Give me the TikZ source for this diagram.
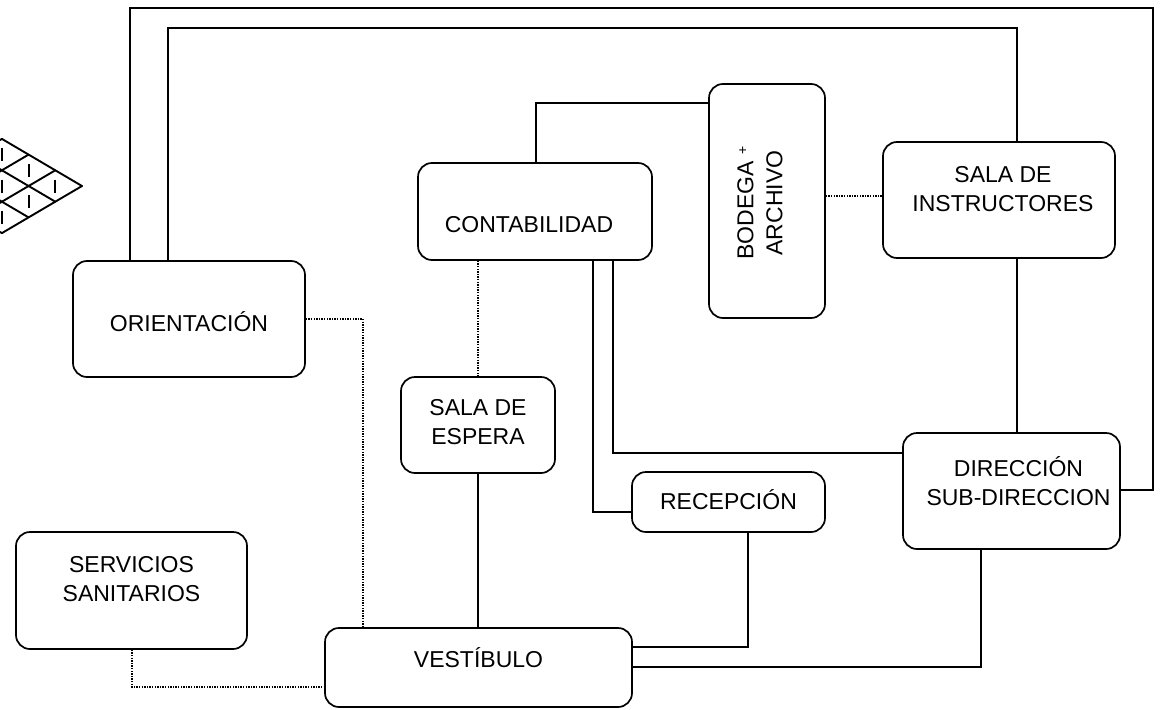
\documentclass[tikz,border=0pt]{standalone}
\usepackage{fontspec}
\setmainfont{Liberation Sans}
\usetikzlibrary{calc}
\tikzset{
  room/.style={draw, rounded corners=14pt, line width=1.7pt, inner sep=0pt},
  conn/.style={line width=1.5pt},
  dotline/.style={line width=1.3pt, dash pattern=on 1.3pt off 1.3pt},
  lbl/.style={font=\fontsize{23}{29}\selectfont, align=center, inner sep=0pt},
  gridline/.style={line width=1.9pt, line cap=round},
  tickmark/.style={line width=2.2pt}
}
\begin{document}
\begin{tikzpicture}[x=1pt, y=-1pt]
\useasboundingbox (0,0) rectangle (1161,709);

% orientation symbol (cut at the left edge)
\begin{scope}
  \clip (0,0) rectangle (1161,709);
  \foreach \k in {0,1,2,3} {
    \draw[gridline] ({82-26.7*\k},{186+15.7*\k}) -- ++(-80.1,-47.1);
    \draw[gridline] ({82-26.7*\k},{186-15.7*\k}) -- ++(-80.1,47.1);
  }
  \foreach \i in {0,1,2} {
    \foreach \j in {0,1,2} {
      \draw[tickmark] ({82-26.7*(\i+\j+1)},{186+15.7*(\j-\i)-6.5}) -- ++(0,13);
    }
  }
\end{scope}

% rooms
\node[room, minimum width=232pt, minimum height=116pt,
  label={[lbl, yshift=-3pt]center:ORIENTACIÓN}] (ori) at (189,319) {};
\node[room, minimum width=234pt, minimum height=97pt,
  label={[lbl, xshift=-6pt, yshift=-13.5pt]center:CONTABILIDAD}] (cont) at (535,211.5) {};
\node[room, minimum width=116pt, minimum height=234pt,
  label={[lbl, xshift=-7pt, yshift=-2pt, rotate=90]center:BODEGA {\fontsize{14}{14}\selectfont\raisebox{6pt}{+}}\\ARCHIVO}] (bod) at (767,201) {};
\node[room, minimum width=232pt, minimum height=116pt,
  label={[lbl, xshift=4pt, yshift=11pt]center:SALA DE\\INSTRUCTORES}] (ins) at (999,200) {};
\node[room, minimum width=217pt, minimum height=116pt,
  label={[lbl, xshift=7pt, yshift=10pt]center:DIRECCIÓN\\SUB-DIRECCION}] (dir) at (1011.5,491) {};
\node[room, minimum width=154pt, minimum height=96pt,
  label={[lbl, yshift=3pt]center:SALA DE\\ESPERA}] (esp) at (478,425) {};
\node[room, minimum width=193pt, minimum height=60pt,
  label={[lbl, yshift=2pt]center:RECEPCIÓN}] (rec) at (728.5,502) {};
\node[room, minimum width=231pt, minimum height=117pt,
  label={[lbl, yshift=11.5pt]center:SERVICIOS\\SANITARIOS}] (ser) at (131.5,590.5) {};
\node[room, minimum width=307pt, minimum height=79pt,
  label={[lbl, yshift=9.5pt]center:VESTÍBULO}] (ves) at (478.5,667.5) {};

% bend points
\coordinate (o1) at (130,8);
\coordinate (o2) at (1153,8);
\coordinate (o3) at (1153,490);
\coordinate (i1) at (168,28);
\coordinate (i2) at (1017,28);
\coordinate (b1) at (536,103);
\coordinate (d1) at (850,196);
\coordinate (r1) at (593,512);
\coordinate (r2) at (613,453);
\coordinate (p1) at (363,319);
\coordinate (s1) at (132,687);
\coordinate (v1) at (748,647);
\coordinate (v2) at (981,667);

% solid connectors
\draw[conn] (ori.north -| o1) -- (o1) -- (o2) -- (o3) -- (o3 -| dir.east);
\draw[conn] (ori.north -| i1) -- (i1) -- (i2) -- (i2 |- ins.north);
\draw[conn] (cont.north -| b1) -- (b1) -- (b1 -| bod.west);
\draw[conn] (ins.south -| i2) -- (dir.north -| i2);
\draw[conn] (cont.south -| r1) -- (r1) -- (r1 -| rec.west);
\draw[conn] (cont.south -| r2) -- (r2) -- (r2 -| dir.west);
\draw[conn] (esp.south) -- (esp.south |- ves.north);
\draw[conn] (v1 -| ves.east) -- (v1) -- (v1 |- rec.south);
\draw[conn] (v2 -| ves.east) -- (v2) -- (v2 |- dir.south);

% dotted connectors
\draw[dotline] (d1 -| bod.east) -- (d1 -| ins.west);
\draw[dotline] (cont.south -| esp.north) -- (esp.north);
\draw[dotline] (ori.east) -- (p1) -- (p1 |- ves.north);
\draw[dotline] (ser.south -| s1) -- (s1) -- (s1 -| ves.west);
\end{tikzpicture}
\end{document}
